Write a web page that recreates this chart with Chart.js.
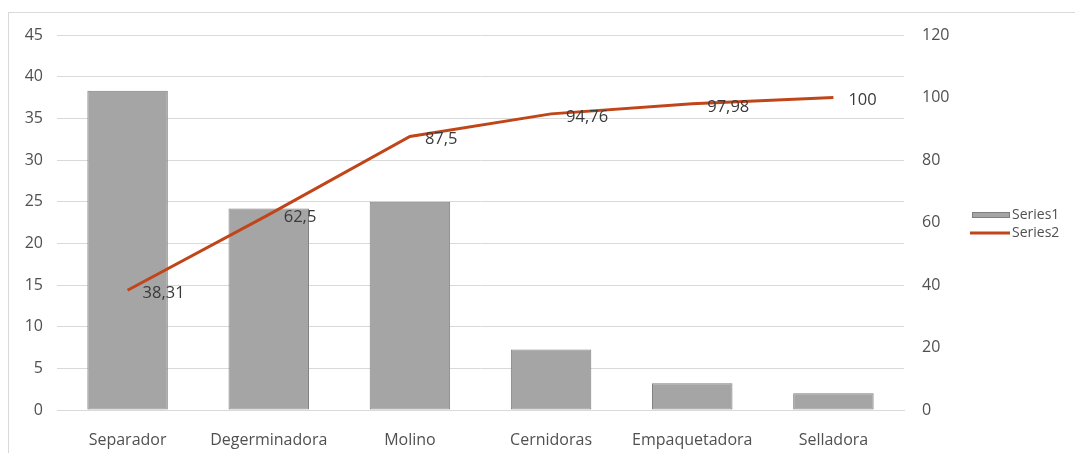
<!DOCTYPE html>
<html>
<head>
<meta charset="utf-8">
<script src="https://cdn.jsdelivr.net/npm/chart.js@4/dist/chart.umd.min.js"></script>
<style>
  html, body { margin: 0; padding: 0; background: #fff; }
  .wrap { position: relative; width: 1075px; height: 453px; overflow: hidden; }
  .frame { position: absolute; left: 8px; top: 12px; width: 1100px; height: 480px; border: 1px solid #d9d9d9; }
  canvas { position: absolute; left: 0; top: 0; }
</style>
</head>
<body>
<div class="wrap">
  <div class="frame"></div>
  <canvas id="myChart" width="1075" height="453"></canvas>
</div>
<script>
'use strict'

// DATOS
var categories = ['Separador', 'Degerminadora', 'Molino', 'Cernidoras', 'Empaquetadora', 'Selladora'];
var series1 = [38.31, 24.19, 25, 7.26, 3.22, 2.02];
var series2 = [38.31, 62.5, 87.5, 94.76, 97.98, 100];
var leftTicks = [0, 5, 10, 15, 20, 25, 30, 35, 40, 45];
var rightTicks = [0, 20, 40, 60, 80, 100, 120];

var FONT = "'Open Sans', 'Liberation Sans', sans-serif";
var TEXT = '#505050';
var LINE = '#c0461a';
var BAR = '#a5a5a5';

// etiquetas de la linea (a la derecha del punto)
var lineLabels = {
  id: 'lineLabels',
  afterDatasetsDraw: function(chart) {
    var ctx = chart.ctx;
    var meta = chart.getDatasetMeta(1);
    ctx.save();
    ctx.font = '16.5px ' + FONT;
    ctx.fillStyle = '#3a3a3a';
    ctx.textAlign = 'left';
    ctx.textBaseline = 'middle';
    meta.data.forEach(function(pt, i) {
      var txt = String(series2[i]).replace('.', ',');
      ctx.fillText(txt, pt.x + 15, pt.y + 3);
    });
    ctx.restore();
  }
};

// leyenda a la derecha
var sideLegend = {
  id: 'sideLegend',
  afterDraw: function(chart) {
    var ctx = chart.ctx;
    ctx.save();
    ctx.fillStyle = BAR;
    ctx.fillRect(972, 212, 38, 6);
    ctx.strokeStyle = '#7f7f7f';
    ctx.lineWidth = 1;
    ctx.strokeRect(972.5, 212.5, 37, 5);
    ctx.strokeStyle = LINE;
    ctx.lineWidth = 3;
    ctx.beginPath();
    ctx.moveTo(970, 233);
    ctx.lineTo(1010, 233);
    ctx.stroke();
    ctx.font = '14px ' + FONT;
    ctx.fillStyle = TEXT;
    ctx.textAlign = 'left';
    ctx.textBaseline = 'middle';
    ctx.fillText('Series1', 1012, 215);
    ctx.fillText('Series2', 1012, 233);
    ctx.restore();
  }
};

var ctx = document.getElementById('myChart').getContext('2d');
var chart = new Chart(ctx, {
  type: 'bar',
  data: {
    labels: categories,
    datasets: [{
      label: 'Series1',
      data: series1,
      backgroundColor: BAR,
      borderColor: '#7f7f7f',
      borderWidth: 1,
      borderSkipped: false,
      categoryPercentage: 1,
      barPercentage: 0.57,
      yAxisID: 'y',
      order: 2
    }, {
      type: 'line',
      label: 'Series2',
      data: series2,
      borderColor: LINE,
      backgroundColor: LINE,
      borderWidth: 3,
      pointRadius: 0,
      tension: 0,
      yAxisID: 'y1',
      order: 1
    }]
  },
  options: {
    responsive: false,
    animation: false,
    layout: { padding: { top: 35, left: 10, right: 0, bottom: 0 } },
    plugins: {
      legend: { display: false },
      tooltip: { enabled: false }
    },
    scales: {
      x: {
        grid: { display: false },
        border: { color: '#d9d9d9' },
        ticks: { color: TEXT, font: { family: FONT, size: 16 }, padding: 13, maxRotation: 0 },
        afterFit: function(s) { s.height = 43; }
      },
      y: {
        position: 'left',
        min: 0, max: 45,
        afterBuildTicks: function(s) { s.ticks = leftTicks.map(function(v) { return { value: v }; }); },
        grid: { color: '#d9d9d9', drawTicks: false },
        border: { display: false },
        ticks: { color: TEXT, font: { family: FONT, size: 16 }, padding: 14 },
        afterFit: function(s) { s.width = 47; }
      },
      y1: {
        position: 'right',
        min: 0, max: 120,
        afterBuildTicks: function(s) { s.ticks = rightTicks.map(function(v) { return { value: v }; }); },
        grid: { display: false, drawTicks: false },
        border: { display: false },
        ticks: { color: TEXT, font: { family: FONT, size: 16 }, padding: 18 },
        afterFit: function(s) { s.width = 171; }
      }
    }
  },
  plugins: [lineLabels, sideLegend]
});
</script>
</body>
</html>
